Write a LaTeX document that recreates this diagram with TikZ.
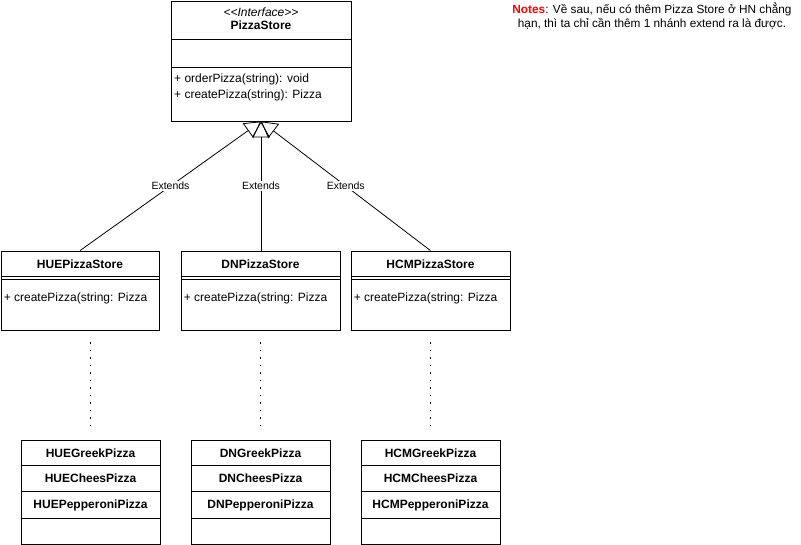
\documentclass[tikz,border=0pt]{standalone}
\usepackage{fontspec}
\setmainfont{Liberation Sans}
\usetikzlibrary{arrows.meta}
\begin{document}
\begin{tikzpicture}[x=1pt,y=-1pt,
  box/.style={draw, line width=0.8pt, rectangle, inner sep=0pt},
  txt/.style={font=\fontsize{12}{14}\selectfont, inner sep=0pt},
  btxt/.style={font=\fontsize{12}{14}\selectfont\bfseries, inner sep=0pt},
  sep/.style={line width=0.8pt},
  ext/.style={line width=0.8pt, -{Triangle[open, length=16pt, width=18pt]}},
  elbl/.style={fill=white, font=\fontsize{10.5}{12}\selectfont, inner sep=1.5pt},
  dots/.style={line width=1.3pt, dash pattern=on 1.3pt off 6.2pt}]
\useasboundingbox (0,0) rectangle (801,545);

% Interface
\node[box, minimum width=180pt, minimum height=120pt] (ps) at (261,61) {};
\draw[sep] (171,39) -- (351,39);
\draw[sep] (171,67) -- (351,67);
\node[txt, font=\fontsize{12}{14}\selectfont\itshape] (psst) at (261,12) {\mbox{<}\mbox{<}Interface\mbox{>}\mbox{>}};
\node[btxt] (psname) at (261,25) {PizzaStore};
\node[txt, anchor=west] (m1) at (174,79) {+ orderPizza(string): void};
\node[txt, anchor=west] (m2) at (174,95) {+ createPizza(string): Pizza};

% Stores
\foreach \n/\cx/\w/\lbl in {hue/80/158/HUEPizzaStore, dn/260.5/159/DNPizzaStore, hcm/430.5/159/HCMPizzaStore}{
  \node[box, minimum width=\w pt, minimum height=79pt] (\n) at (\cx,290.5) {};
  \node[btxt] (\n name) at (\cx,264) {\lbl};
  \draw[sep] (\n.west |- 0,276) -- (\n.east |- 0,276);
  \draw[sep] (\n.west |- 0,279) -- (\n.east |- 0,279);
  \node[txt, anchor=west] (\n m) at ([xshift=3pt]\n.west |- 0,298) {+ createPizza(string: Pizza};
}

% Pizza lists
\foreach \n/\cx/\p in {hueb/90.5/HUE, dnb/260.5/DN, hcmb/430.5/HCM}{
  \node[box, minimum width=139pt, minimum height=104pt] (\n) at (\cx,492) {};
  \draw[sep] (\n.west |- 0,465) -- (\n.east |- 0,465);
  \draw[sep] (\n.west |- 0,491) -- (\n.east |- 0,491);
  \draw[sep] (\n.west |- 0,518) -- (\n.east |- 0,518);
  \node[btxt] (\n g) at (\cx,453) {\p GreekPizza};
  \node[btxt] (\n c) at (\cx,478) {\p CheesPizza};
  \node[btxt] (\n p) at (\cx,505) {\p PepperoniPizza};
}

% Extends connectors
\draw[ext] (hue.north) -- node[elbl, pos=0.5] {Extends} (ps.south);
\draw[ext] (dn.north -| ps.south) -- node[elbl, pos=0.5] {Extends} (ps.south);
\draw[ext] (hcm.north) -- node[elbl, pos=0.5] {Extends} (ps.south);

% Dotted links
\draw[dots, shorten <=12pt, shorten >=11pt] (hue.south -| hueb.north) -- (hueb.north);
\draw[dots, shorten <=12pt, shorten >=11pt] (dn.south -| dnb.north) -- (dnb.north);
\draw[dots, shorten <=12pt, shorten >=11pt] (hcm.south -| hcmb.north) -- (hcmb.north);

% Note
\node[txt, align=center, font=\fontsize{11.8}{14}\selectfont] (note) at (652,16)
  {\textcolor[HTML]{FF0000}{\bfseries Notes}: Về sau, nếu có thêm Pizza Store ở HN chẳng\\hạn, thì ta chỉ cần thêm 1 nhánh extend ra là được.};
\end{tikzpicture}
\end{document}
